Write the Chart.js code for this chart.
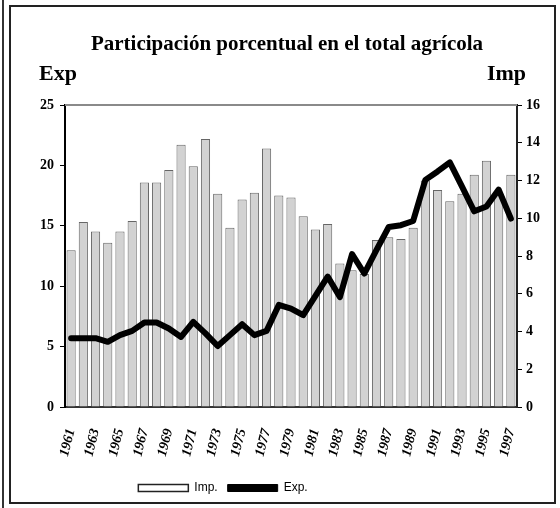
<!DOCTYPE html>
<html><head><meta charset="utf-8">
<script src="https://cdn.jsdelivr.net/npm/chart.js@4.4.1/dist/chart.umd.min.js"></script>
<style>
html,body{margin:0;padding:0;background:#fff;}
#wrap{position:relative;width:560px;height:508px;overflow:hidden;}
canvas{position:absolute;left:0;top:0;}
.frame{position:absolute;left:9px;top:5px;width:543px;height:495px;border:2px solid #222;}
.lline{position:absolute;left:2px;top:0;width:2px;height:508px;background:#333;}
</style></head>
<body><div id="wrap"><canvas id="c" width="560" height="508"></canvas><div class="lline"></div><div class="frame"></div></div>
<script>
const years = ['1961','1962','1963','1964','1965','1966','1967','1968','1969','1970','1971','1972','1973','1974','1975','1976','1977','1978','1979','1980','1981','1982','1983','1984','1985','1986','1987','1988','1989','1990','1991','1992','1993','1994','1995','1996','1997'];
const impValues = [8.3, 9.8, 9.3, 8.7, 9.3, 9.85, 11.9, 11.9, 12.55, 13.9, 12.75, 14.2, 11.3, 9.5, 11.0, 11.35, 13.7, 11.2, 11.1, 10.1, 9.4, 9.7, 7.6, 7.25, 7.05, 8.85, 9.0, 8.9, 9.5, 12.0, 11.5, 10.9, 11.3, 12.3, 13.05, 11.3, 12.3];
const expValues = [5.7, 5.7, 5.7, 5.4, 5.95, 6.3, 7.0, 7.0, 6.5, 5.8, 7.05, 6.1, 5.05, 5.95, 6.85, 5.95, 6.3, 8.45, 8.15, 7.6, 9.2, 10.8, 9.1, 12.65, 11.05, 13.0, 14.9, 15.05, 15.4, 18.8, 19.5, 20.25, 18.25, 16.2, 16.6, 18.0, 15.6];
const titleText = 'Participación porcentual en el total agrícola';
const leftAxisTitle = 'Exp';
const rightAxisTitle = 'Imp';
const seriesNames = ['Imp.', 'Exp.'];

const serif = '"Liberation Serif", "Times New Roman", serif';

const decor = {
  id: 'decor',
  afterLayout(chart) {
    const l = chart.legend;
    if (l) { l.right -= 114; const h = l.height; l.top = 472; l.bottom = l.top + h; }
    const t = chart.titleBlock;
    if (t) { t.left += 14; }
  },
  beforeDatasetsDraw(chart) {
    const a = chart.chartArea, ctx = chart.ctx;
    ctx.save();
    ctx.strokeStyle = '#8a8a8a';
    ctx.lineWidth = 2;
    ctx.beginPath();
    ctx.moveTo(a.left, a.top); ctx.lineTo(a.right, a.top);
    ctx.stroke();
    ctx.restore();
  },
  afterDraw(chart) {
    const ctx = chart.ctx;
    ctx.save();
    ctx.fillStyle = '#000';
    ctx.font = 'bold 22px ' + serif;
    ctx.textBaseline = 'alphabetic';
    ctx.textAlign = 'left';
    ctx.fillText(leftAxisTitle, 39, 80);
    ctx.textAlign = 'right';
    ctx.fillText(rightAxisTitle, 526, 80);
    ctx.restore();
  }
};

new Chart(document.getElementById('c'), {
  type: 'bar',
  data: {
    labels: years,
    datasets: [
      { type: 'line', label: seriesNames[1], data: expValues, yAxisID: 'yL', order: 0,
        borderColor: '#000', borderWidth: 6, pointRadius: 0, tension: 0,
        borderJoinStyle: 'round', borderCapStyle: 'round', fill: false },
      { type: 'bar', label: seriesNames[0], data: impValues, yAxisID: 'yR', order: 1,
        backgroundColor: '#d2d2d2', borderColor: '#666', borderWidth: 1,
        categoryPercentage: 1.0, barPercentage: 0.75 }
    ]
  },
  options: {
    responsive: false,
    devicePixelRatio: 1,
    animation: false,
    layout: { padding: { left: 0, right: 0, top: 0, bottom: 0 } },
    plugins: {
      tooltip: { enabled: false },
      title: { display: true, text: titleText, color: '#000',
        font: { family: serif, size: 21, weight: 'bold' },
        padding: { top: 32, bottom: 47.8 } },
      legend: {
        position: 'bottom',
        labels: {
          color: '#000',
          font: { family: '"Liberation Sans Narrow", "Liberation Sans", Arial, sans-serif', size: 12 },
          boxWidth: 50, boxHeight: 7, padding: 10,
          generateLabels: () => [
            { text: seriesNames[0], fillStyle: '#ffffff', strokeStyle: '#222', lineWidth: 1.5, datasetIndex: 1, hidden: false, fontColor: '#000' },
            { text: seriesNames[1], fillStyle: '#000000', strokeStyle: '#000', lineWidth: 1, datasetIndex: 0, hidden: false, fontColor: '#000' }
          ]
        }
      }
    },
    scales: {
      x: {
        offset: true,
        grid: { display: false },
        border: { display: true, color: '#333', width: 2 },
        ticks: {
          autoSkip: false, maxRotation: 76, minRotation: 76, padding: 12, color: '#000',
          font: { family: serif, size: 14, weight: 'bold', style: 'italic' },
          callback: function (v, i) { return i % 2 === 0 ? this.getLabelForValue(v) : ''; }
        },
        afterFit: (s) => { const lh = s.chart.legend ? s.chart.legend.height : 0; s.height = 101 - lh; }
      },
      yL: {
        position: 'left', min: 0, max: 25,
        grid: { drawOnChartArea: false, tickLength: 5, color: '#000', lineWidth: 1 },
        border: { color: '#000', width: 2 },
        ticks: { stepSize: 5, color: '#000', padding: 6, font: { family: serif, size: 14, weight: 'bold' } },
        afterFit: (s) => { s.width = 65; }
      },
      yR: {
        position: 'right', min: 0, max: 16,
        grid: { drawOnChartArea: false, tickLength: 5, color: '#000', lineWidth: 1 },
        border: { color: '#222', width: 2 },
        ticks: { stepSize: 2, color: '#000', padding: 4, font: { family: serif, size: 14, weight: 'bold' } },
        afterFit: (s) => { s.width = 43; }
      }
    }
  },
  plugins: [decor]
});
</script>
</body></html>
